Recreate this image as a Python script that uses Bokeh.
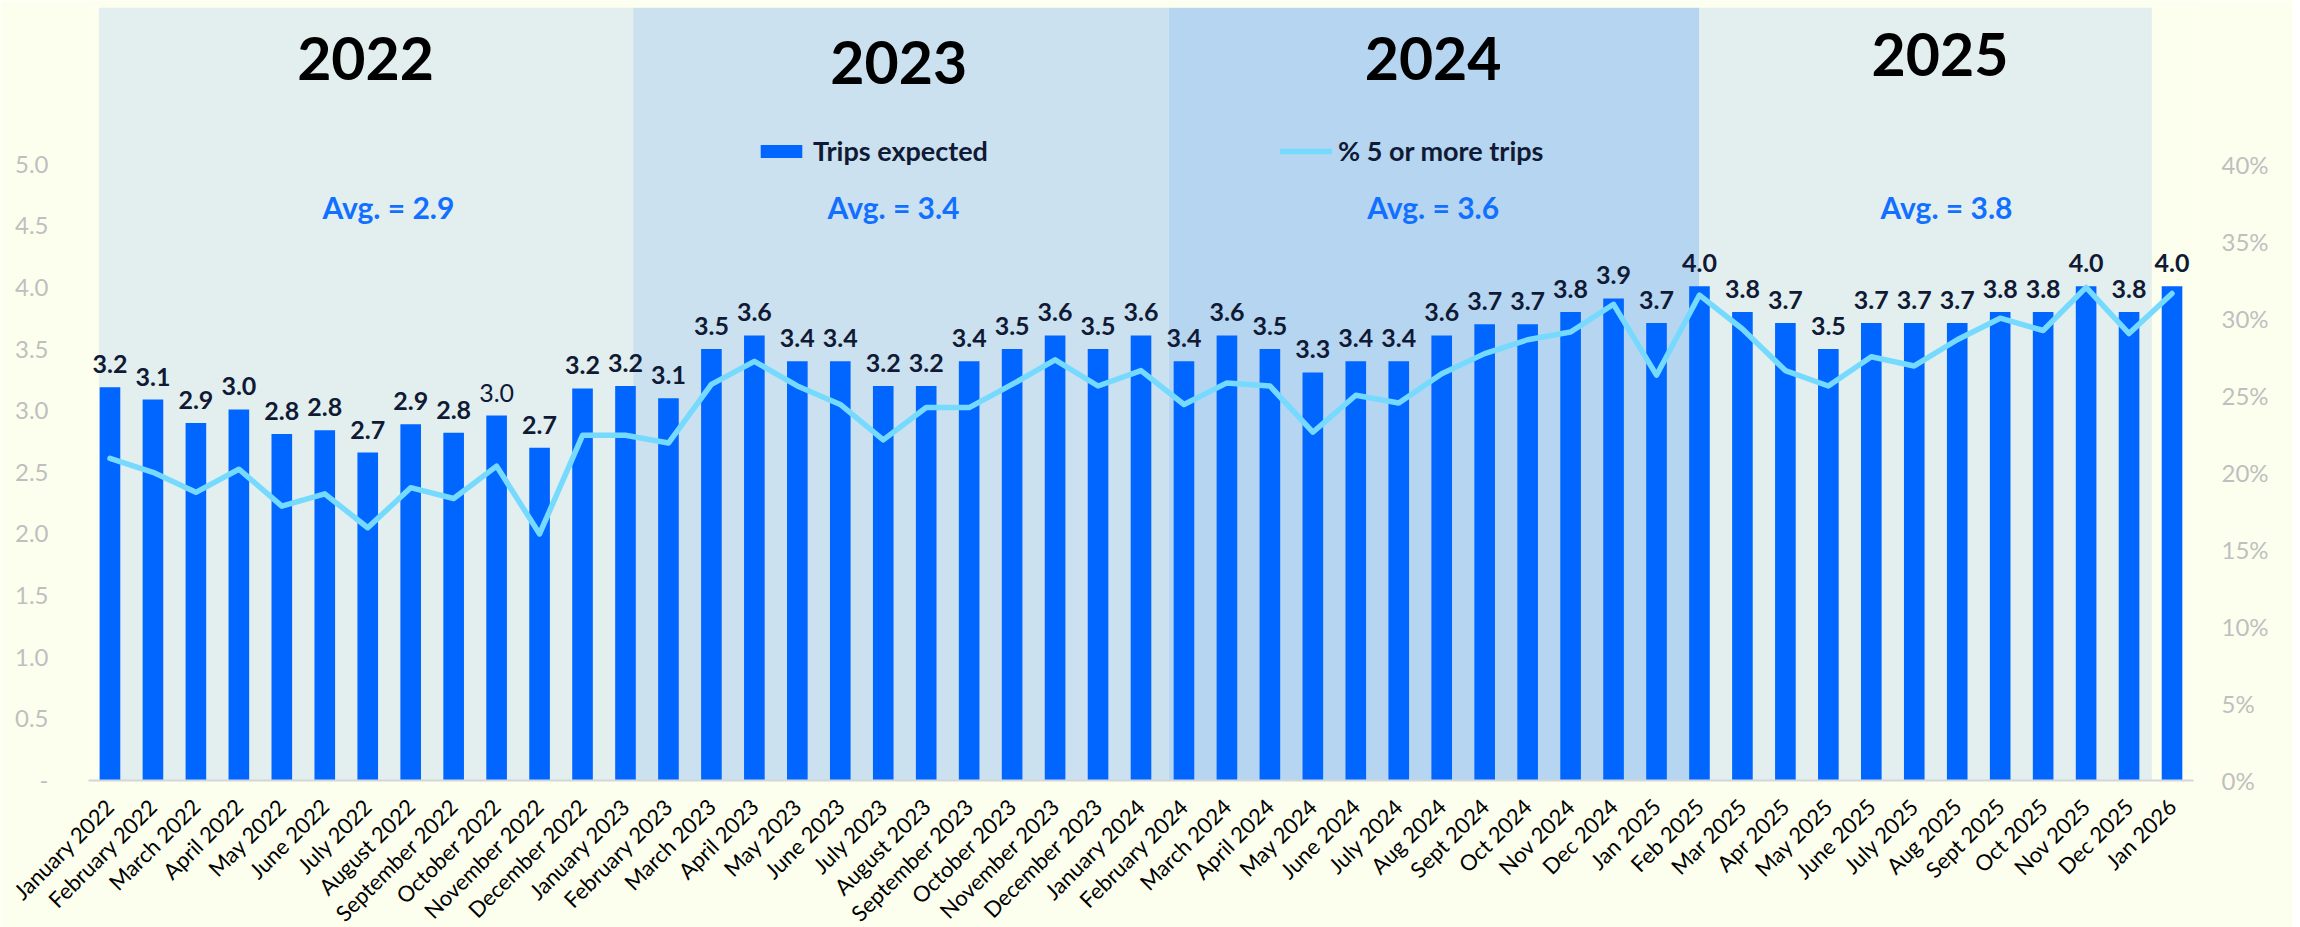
import math
from bokeh.plotting import figure
from bokeh.models import (Range1d, FactorRange, LinearAxis, FixedTicker, PrintfTickFormatter,
                          ColumnDataSource, Legend, LegendItem)
from bokeh.core.properties import value
from bokeh.embed import file_html
from bokeh.resources import INLINE

# ---------------- data ----------------
months = [
    "January 2022", "February 2022", "March 2022", "April 2022", "May 2022", "June 2022",
    "July 2022", "August 2022", "September 2022", "October 2022", "November 2022", "December 2022",
    "January 2023", "February 2023", "March 2023", "April 2023", "May 2023", "June 2023",
    "July 2023", "August 2023", "September 2023", "October 2023", "November 2023", "December 2023",
    "January 2024", "February 2024", "March 2024", "April 2024", "May 2024", "June 2024",
    "July 2024", "Aug 2024", "Sept 2024", "Oct 2024", "Nov 2024", "Dec 2024",
    "Jan 2025", "Feb 2025", "Mar 2025", "Apr 2025", "May 2025", "June 2025",
    "July 2025", "Aug 2025", "Sept 2025", "Oct 2025", "Nov 2025", "Dec 2025", "Jan 2026",
]
trips_expected = [
    3.19, 3.09, 2.90, 3.01, 2.81, 2.84, 2.66, 2.89, 2.82, 2.96, 2.70, 3.18,
    3.20, 3.10, 3.50, 3.61, 3.40, 3.40, 3.20, 3.20, 3.40, 3.50, 3.61, 3.50,
    3.61, 3.40, 3.61, 3.50, 3.31, 3.40, 3.40, 3.61, 3.70, 3.70, 3.80, 3.91,
    3.71, 4.01, 3.80, 3.71, 3.50, 3.71, 3.71, 3.71, 3.80, 3.80, 4.01, 3.80, 4.01,
]
pct_five_or_more = [
    20.9, 20.0, 18.7, 20.2, 17.8, 18.6, 16.4, 19.0, 18.3, 20.4, 16.0, 22.4,
    22.4, 21.9, 25.7, 27.2, 25.6, 24.4, 22.1, 24.2, 24.2, 25.7, 27.3, 25.6,
    26.6, 24.4, 25.8, 25.6, 22.6, 25.0, 24.5, 26.4, 27.7, 28.6, 29.1, 30.9,
    26.3, 31.5, 29.3, 26.6, 25.6, 27.5, 26.9, 28.6, 30.0, 29.2, 32.0, 29.0, 31.6,
]
years = ["2022", "2023", "2024", "2025"]
year_avgs = [2.9, 3.4, 3.6, 3.8]
left_ticks = [0, 0.5, 1.0, 1.5, 2.0, 2.5, 3.0, 3.5, 4.0, 4.5, 5.0]
right_ticks = [0, 5, 10, 15, 20, 25, 30, 35, 40]

# ---------------- layout / style ----------------
BG = "#FCFFEE"
BAR = "#0066FF"
LINE = "#76DAFF"
NAVY = "#101A35"
AVG_BLUE = "#1170FF"
FONT = "Lato"
Y_MAX = 6.27
band_edges = [0.244, 12.68, 25.14, 37.5, 48.03]
band_colors = ["#E3EFEF", "#CCE1F0", "#B6D5F0", "#E3EFEF"]
title_x = [6.45, 18.86, 31.3, 43.1]
title_y = [5.86, 5.82, 5.86, 5.89]
avg_x = [6.98, 18.74, 31.3, 43.25]
avg_y = 4.65
plain_label_months = {"October 2022"}

p = figure(frame_width=2105, frame_height=773,
           x_range=FactorRange(factors=months, range_padding=0),
           y_range=Range1d(0, Y_MAX),
           output_backend="svg", toolbar_location=None,
           min_border_left=88, min_border_right=99, min_border_top=7, min_border_bottom=120)
p.background_fill_color = BG
p.border_fill_color = BG
p.outline_line_color = None
p.xgrid.visible = False
p.ygrid.visible = False

# year bands
bands = ColumnDataSource(dict(left=band_edges[:-1], right=band_edges[1:],
                              color=band_colors))
p.quad(left="left", right="right", bottom=0, top=Y_MAX, fill_color="color",
       line_color=None, source=bands)

src = ColumnDataSource(dict(month=months, trips=trips_expected, pct=pct_five_or_more))
bars = p.vbar(x="month", top="trips", width=0.48, source=src,
              fill_color=BAR, line_color=None)

p.extra_y_ranges = {"pct": Range1d(0, Y_MAX * 8)}
line = p.line(x="month", y="pct", source=src, y_range_name="pct",
              line_color=LINE, line_width=5.5, line_join="round", line_cap="round")

# data labels
bold_idx = [i for i, m in enumerate(months) if m not in plain_label_months]
plain_idx = [i for i, m in enumerate(months) if m in plain_label_months]
for idx, style in ((bold_idx, "bold"), (plain_idx, "normal")):
    s = ColumnDataSource(dict(month=[months[i] for i in idx],
                              trips=[trips_expected[i] for i in idx],
                              label=["%.1f" % trips_expected[i] for i in idx]))
    p.text(x="month", y="trips", text="label", source=s, y_offset=-23,
           text_align="center", text_baseline="alphabetic",
           text_font=value(FONT), text_font_style=style, text_font_size="25px",
           text_color=NAVY)

# year titles and averages
ysrc = ColumnDataSource(dict(x=title_x, y=title_y, text=years))
p.text(x="x", y="y", text="text", source=ysrc, text_align="center",
       text_baseline="alphabetic", text_font=value(FONT), text_font_style="bold",
       text_font_size="59px", text_color="#000000")
asrc = ColumnDataSource(dict(x=avg_x, y=[avg_y] * len(avg_x),
                             text=["Avg. = %.1f" % a for a in year_avgs]))
p.text(x="x", y="y", text="text", source=asrc, text_align="center",
       text_baseline="alphabetic", text_font=value(FONT), text_font_style="bold",
       text_font_size="30px", text_color=AVG_BLUE)

# axes
xa = p.xaxis[0]
xa.major_label_orientation = math.pi / 4
xa.axis_line_color = "#D3D6D8"
xa.axis_line_width = 2
xa.major_tick_line_color = None
xa.minor_tick_line_color = None
xa.major_label_text_font = FONT
xa.major_label_text_font_size = "22px"
xa.major_label_text_color = "#000000"
xa.major_label_standoff = 16

ya = p.yaxis[0]
ya.ticker = FixedTicker(ticks=left_ticks)
ya.formatter = PrintfTickFormatter(format="%.1f")
ya.major_label_overrides = {0: "-"}
ya.axis_line_color = None
ya.major_tick_line_color = None
ya.minor_tick_line_color = None
ya.major_label_text_font = FONT
ya.major_label_text_font_size = "24px"
ya.major_label_text_color = "#BFBFBF"
ya.major_label_standoff = 34

ra = LinearAxis(y_range_name="pct", ticker=FixedTicker(ticks=right_ticks),
                formatter=PrintfTickFormatter(format="%d%%"))
ra.axis_line_color = None
ra.major_tick_line_color = None
ra.minor_tick_line_color = None
ra.major_label_text_font = FONT
ra.major_label_text_font_size = "24px"
ra.major_label_text_color = "#BFBFBF"
ra.major_label_standoff = 22
p.add_layout(ra, "right")

# legends
def make_legend(label, rend, loc):
    lg = Legend(items=[LegendItem(label=label, renderers=[rend])], location=loc,
                orientation="horizontal", padding=0, margin=0, spacing=0,
                glyph_width=52, glyph_height=16, label_height=16, label_standoff=6,
                label_text_font=FONT, label_text_font_style="bold",
                label_text_font_size="27px", label_text_color=NAVY,
                background_fill_alpha=0, border_line_alpha=0)
    return lg

p.add_layout(make_legend("Trips expected", bars, (667, 613)))
p.add_layout(make_legend("% 5 or more trips", line, (1192, 613)))

open("out.html", "w").write(file_html(p, INLINE))
